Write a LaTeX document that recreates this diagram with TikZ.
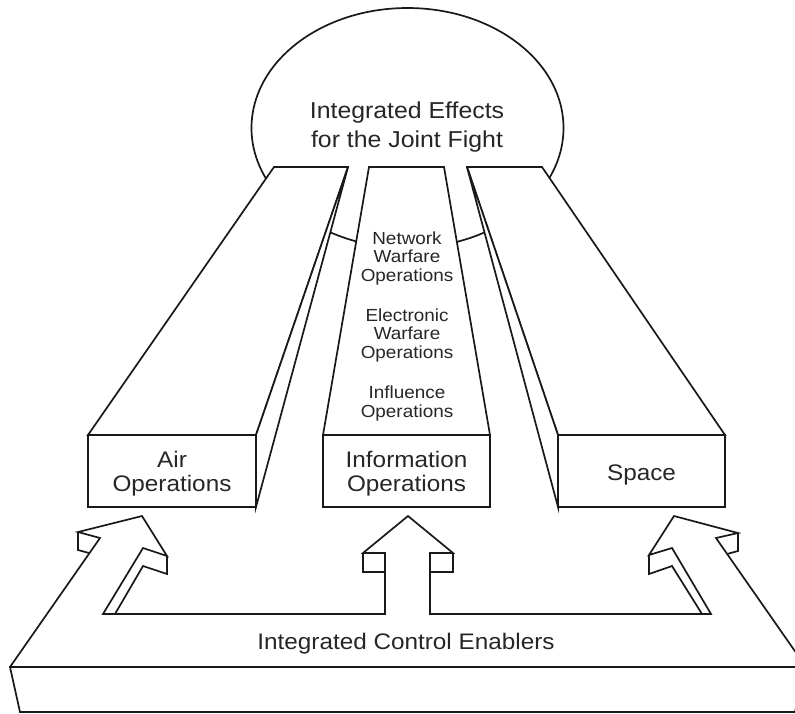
\documentclass[tikz,border=0pt]{standalone}
\usepackage{fontspec}
\setmainfont{Liberation Sans}[FakeStretch=1.08]
\tikzset{
  shape line/.style={line width=1.7pt, line join=miter, draw=black!90},
  face/.style={shape line, fill=white},
  bigtext/.style={font=\fontsize{23}{29}\selectfont, align=center, inner sep=0pt, anchor=base, text=black!85},
  boxtext/.style={font=\fontsize{22.5}{24}\selectfont, align=center, inner sep=0pt, anchor=base, text=black!85},
  smalltext/.style={font=\fontsize{17.5}{18.5}\selectfont, align=center, inner sep=0pt, anchor=base, text=black!85}
}
\begin{document}
\begin{tikzpicture}[x=1pt,y=-1pt]
\useasboundingbox (0,0) rectangle (795,713);
\clip (0,0) rectangle (795,713);
\fill[white] (0,0) rectangle (795,713);

% ellipse
\draw[face] (407.5,128) ellipse [x radius=156, y radius=120];
\node[bigtext] (effects) at (407,147) {Integrated Effects\\for the Joint Fight};

% Air column
\draw[face] (88,435) -- (274,167) -- (348,167) -- (256,435) -- cycle;
\draw[face] (348,167) -- (256,435) -- (256,507) -- cycle;
\draw[face] (88,435) rectangle (256,507);
\node[boxtext] (air) at (172,491) {Air\\Operations};

% Information column
\draw[face] (323,435) -- (369,167) -- (444,167) -- (490,435) -- cycle;
\draw[face] (323,435) rectangle (490,507);
\node[boxtext] (info) at (406.5,491) {Information\\Operations};
\node[smalltext] (nw) at (407,281) {Network\\Warfare\\Operations};
\node[smalltext] (ew) at (407,358) {Electronic\\Warfare\\Operations};
\node[smalltext] (io) at (407,417) {Influence\\Operations};

% Space column
\draw[face] (467,167) -- (542,167) -- (725,435) -- (558,435) -- cycle;
\draw[face] (467,167) -- (558,435) -- (558,507) -- cycle;
\draw[face] (558,435) rectangle (725,507);
\node[boxtext] (space) at (641.5,480) {Space};

% arrows and base
\draw[shape line] (10,667) -- (100,538) -- (78,532) -- (142,516) -- (167,556) -- (143,548) -- (103,614)
  -- (385,614) -- (385,553) -- (363,553) -- (408,516) -- (453,553) -- (430,553) -- (430,614)
  -- (711,614) -- (672,548) -- (649,555) -- (674,516) -- (738,533) -- (716,538) -- (806,667);
\draw[shape line] (10,667) -- (806,667) -- (795,712) -- (20,712) -- cycle;
\draw[shape line] (78,532) -- (78,550) -- (89,553);
\draw[shape line] (167,556) -- (167,574) -- (143,566) -- (115,614);
\draw[shape line] (363,553) -- (363,572) -- (385,572);
\draw[shape line] (453,553) -- (453,572) -- (430,572);
\draw[shape line] (649,555) -- (649,574) -- (672,566) -- (702,614);
\draw[shape line] (738,533) -- (738,551) -- (727,554);
\node[boxtext] (enablers) at (406,649) {Integrated Control Enablers};
\end{tikzpicture}
\end{document}
